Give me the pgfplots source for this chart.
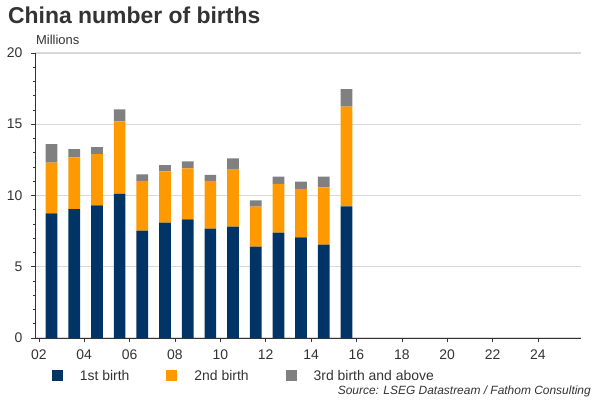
\documentclass[border=0pt]{standalone}
\usepackage{fontspec}
\setmainfont{Liberation Sans}
\usepackage{pgfplots}
\pgfplotsset{compat=1.18}

\definecolor{cBlue}{RGB}{0,51,102}
\definecolor{cOrange}{RGB}{255,153,0}
\definecolor{cGray}{RGB}{128,128,128}
\definecolor{cGrid}{RGB}{217,217,217}
\definecolor{cText}{RGB}{51,51,51}

% births in millions, bar centred in the middle of each year
\pgfplotstableread{
x       first  second third
2002.56 8.75   3.55   1.31
2003.56 9.05   3.63   0.58
2004.56 9.31   3.60   0.49
2005.56 10.11  5.10   0.84
2006.56 7.53   3.49   0.47
2007.56 8.09   3.61   0.44
2008.56 8.33   3.58   0.49
2009.56 7.67   3.35   0.42
2010.56 7.81   4.00   0.80
2011.56 6.41   2.81   0.44
2012.56 7.39   3.42   0.51
2013.56 7.06   3.40   0.51
2014.56 6.55   4.02   0.75
2015.56 9.24   6.99   1.24
}\births

\begin{document}
\begin{tikzpicture}[x=1bp,y=1bp]
\useasboundingbox (0,0) rectangle (600,400);
\node[anchor=west, inner sep=0, text=cText, font=\fontsize{23}{27}\selectfont\bfseries] at (8,385) {China number of births};
\node[anchor=west, inner sep=0, text=cText, font=\fontsize{13}{15}\selectfont] at (36,360) {Millions};
\node[anchor=east, inner sep=0, text=cText, font=\fontsize{12}{14}\selectfont\itshape] at (591,9) {Source: LSEG Datastream / Fathom Consulting};

\begin{axis}[
    at={(35bp,62bp)}, anchor=south west,
    width=546bp, height=285bp, scale only axis,
    xmin=2001.83, xmax=2025.9,
    ymin=0, ymax=20,
    ybar stacked, bar width=11.7bp,
    axis x line*=bottom, axis y line*=left,
    axis line style={cText, line width=0.9pt, -},
    tick align=outside,
    xtick={2002,2004,...,2024},
    xticklabels={02,04,06,08,10,12,14,16,18,20,22,24},
    minor x tick num=7,
    ytick={0,5,...,20},
    minor y tick num=4,
    major tick length=4bp, minor tick length=2bp,
    tick style={cText, line width=0.6pt},
    ymajorgrids, grid style={cGrid, line width=1.2pt},
    tick label style={text=cText, font=\fontsize{14}{16}\selectfont},
    xticklabel style={yshift=-4bp},
    yticklabel style={xshift=-5bp},
    /pgf/number format/assume math mode=true,
    legend columns=3,
    legend style={draw=none, fill=none, at={(0.025,-0.133)}, anchor=west,
        font=\fontsize{14}{16}\selectfont, text=cText,
        /tikz/every even column/.append style={column sep=35bp}},
    legend image code/.code={\fill[#1] (0bp,-5.5bp) rectangle (11bp,5.5bp);
        \path[draw=none, fill=none] (0bp,0bp) -- (26bp,0bp);},
]
\addplot[fill=cBlue, draw=none] table[x=x, y=first] {\births};
\addlegendentry{1st birth}
\addplot[fill=cOrange, draw=none] table[x=x, y=second] {\births};
\addlegendentry{2nd birth}
\addplot[fill=cGray, draw=none] table[x=x, y=third] {\births};
\addlegendentry{3rd birth and above}
\end{axis}
\end{tikzpicture}
\end{document}
